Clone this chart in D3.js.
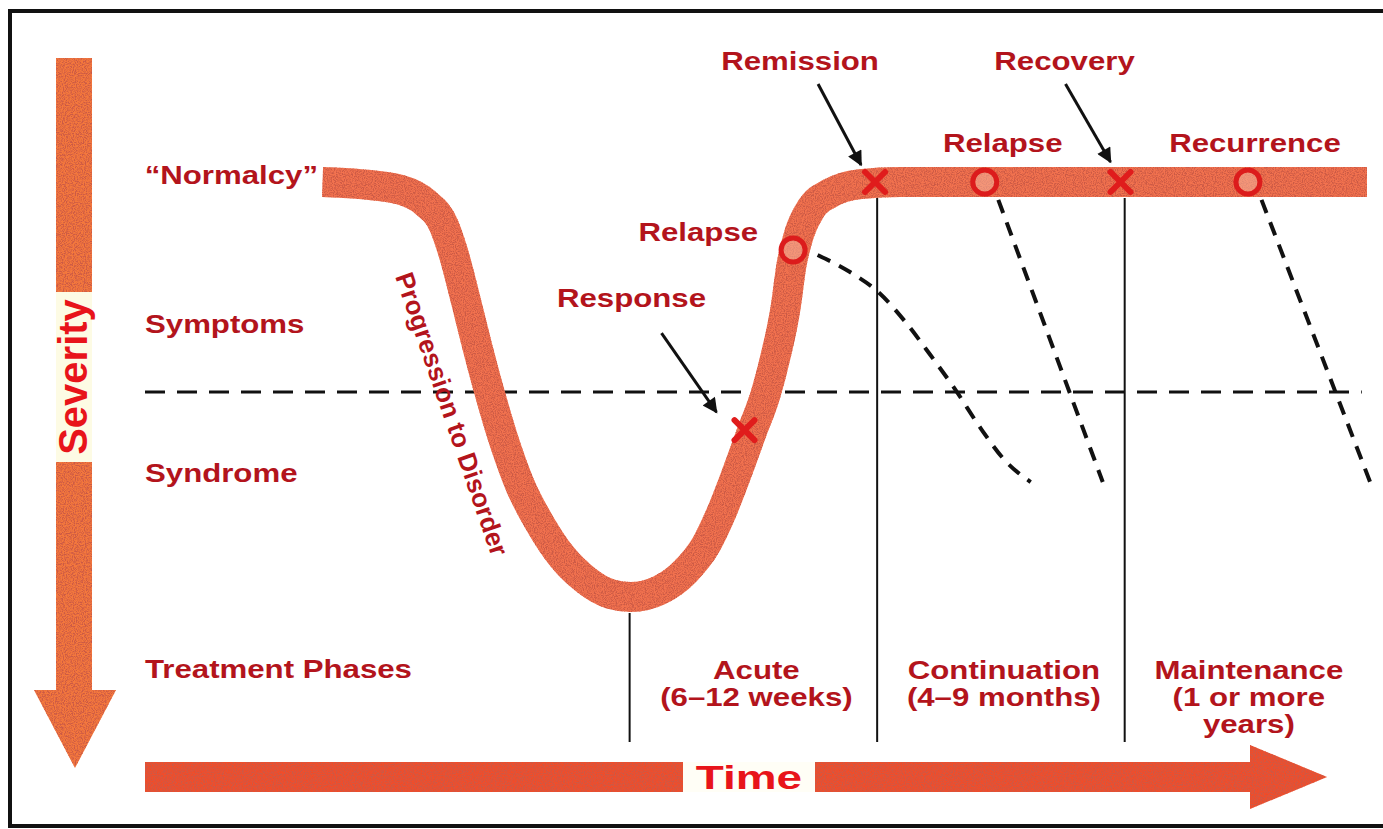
<!DOCTYPE html>
<html>
<head>
<meta charset="utf-8">
<script src="https://cdn.jsdelivr.net/npm/d3@7"></script>
<style>
  body { margin: 0; background: #fff; }
  svg { display: block; }
  text { font-family: "Liberation Sans", Arial, sans-serif; font-weight: bold; }
</style>
</head>
<body>
<svg id="chart"></svg>
<script>
// course of illness, time (0 = onset) vs severity (0 = normalcy, 100 = worst)
const curveTime = [0, 3.6, 7.5, 9.9, 11.6, 12.5, 13.7, 14.9, 16.0, 17.5, 18.9, 20.9, 22.8, 25.2, 27.6, 29.5,
                   32.3, 34.7, 36.7, 38.1, 39.7, 41.1, 42.4, 43.4, 44.3, 44.9, 45.7, 46.8, 48.6, 51.5, 55.3, 100];
const curveSeverity = [0, 0.5, 1.9, 5.1, 10.4, 16.9, 28.4, 40.5, 50.8, 63.4, 73.0, 82.7, 89.9, 95.9, 99.3, 100,
                       98.3, 93.9, 87.5, 80.2, 69.9, 60.2, 51.3, 41.7, 30.8, 20.0, 12.0, 6.3, 2.7, 0.5, 0, 0];

const thresholdSeverity = 50.6;
const levelNames = ["Symptoms", "Syndrome"];
const levelSeverity = [36.4, 72.3];

const phaseBounds = [29.4, 53.1, 76.8, 100];
const phaseTopSeverity = [100, 0, 0];
const phaseNames = [["Acute", "(6–12 weeks)"], ["Continuation", "(4–9 months)"], ["Maintenance", "(1 or more", "years)"]];

// events on the course
const crossTime = [40.4, 52.9, 76.4];
const crossSeverity = [59.8, 0, 0];
const crossNames = ["Response", "Remission", "Recovery"];
const circleTime = [45.05, 63.4, 88.6];
const circleSeverity = [16.4, 0, 0];
const circleNames = ["Relapse", "Relapse", "Recurrence"];

// dashed relapse paths
const relapseEarlyTime = [47.4, 50.5, 53.2, 55.8, 58.2, 60.6, 63.0, 65.3, 67.8];
const relapseEarlySeverity = [17.6, 21.7, 26.5, 33.7, 41.7, 50.1, 59.3, 67.0, 72.3];
const relapseLateStart = [[64.7, 4.3], [89.9, 4.3]];
const relapseLateEnd = [[74.7, 72.3], [100.3, 72.3]];

const width = 1383, height = 829;
const textRed = "#b3141c";
const sx = 1.2; // the original lettering is wide

const svg = d3.select("#chart").attr("width", width).attr("height", height);

const x = d3.scaleLinear().domain([-17, 100]).range([145, 1367]);
const y = d3.scaleLinear().domain([0, 100]).range([182, 597]);

const defs = svg.append("defs");
const grain = defs.append("filter").attr("id", "grain")
    .attr("filterUnits", "userSpaceOnUse")
    .attr("x", 0).attr("y", 0).attr("width", width).attr("height", height);
grain.append("feTurbulence").attr("type", "fractalNoise").attr("baseFrequency", 0.9)
    .attr("numOctaves", 2).attr("seed", 4).attr("result", "noise");
grain.append("feColorMatrix").attr("in", "noise").attr("type", "matrix")
    .attr("values", "0 0 0 0 0.6  0 0 0 0 0.1  0 0 0 0 0.06  0 0 0 3.4 -1.35")
    .attr("result", "spots");
grain.append("feComposite").attr("in", "spots").attr("in2", "SourceGraphic")
    .attr("operator", "in").attr("result", "clip");
const merge = grain.append("feMerge");
merge.append("feMergeNode").attr("in", "SourceGraphic");
merge.append("feMergeNode").attr("in", "clip");

defs.append("marker").attr("id", "head")
    .attr("viewBox", "0 0 10 10").attr("refX", 9).attr("refY", 5)
    .attr("markerWidth", 6).attr("markerHeight", 5).attr("orient", "auto")
    .attr("markerUnits", "strokeWidth")
    .append("path").attr("d", "M0,0L10,5L0,10Z").attr("fill", "#111");

// frame
svg.append("rect").attr("x", 10).attr("y", 11).attr("width", 1400).attr("height", 815)
    .attr("fill", "none").attr("stroke", "#111").attr("stroke-width", 4);

function label(g, txt, px, py, anchor, size) {
    return g.append("text")
        .attr("transform", `translate(${px},${py}) scale(${sx},1)`)
        .attr("text-anchor", anchor || "start")
        .attr("font-size", size || 26)
        .attr("fill", textRed)
        .text(txt);
}

// severity axis arrow
const sev = svg.append("g");
sev.append("path")
    .attr("d", "M56,58H92V690H116L75,768L34,690H56Z")
    .attr("fill", "#f4783e").attr("filter", "url(#grain)");
sev.append("rect").attr("x", 56).attr("y", 292).attr("width", 36).attr("height", 170).attr("fill", "#fdfbe4");
sev.append("text")
    .attr("transform", "translate(87,377) rotate(-90)")
    .attr("text-anchor", "middle").attr("font-size", 40)
    .attr("fill", "#e8141a").text("Severity");

// time axis arrow
const tim = svg.append("g");
tim.append("path")
    .attr("d", "M145,762H1250V745L1327,777L1250,809V792H145Z")
    .attr("fill", "#f04e2c").attr("filter", "url(#grain)");
tim.append("rect").attr("x", 683).attr("y", 762).attr("width", 132).attr("height", 30).attr("fill", "#fffef6");
tim.append("text")
    .attr("transform", "translate(749,789) scale(1.35,1)")
    .attr("text-anchor", "middle").attr("font-size", 34)
    .attr("fill", "#e8141a").text("Time");

// threshold line
svg.append("line")
    .attr("x1", x(-17)).attr("x2", x(99.5))
    .attr("y1", y(thresholdSeverity)).attr("y2", y(thresholdSeverity))
    .attr("stroke", "#111").attr("stroke-width", 3).attr("stroke-dasharray", "20,12");

// phase boundaries
svg.append("g").selectAll("line")
    .data(phaseBounds.slice(0, 3))
    .join("line")
    .attr("x1", d => x(d)).attr("x2", d => x(d))
    .attr("y1", (d, i) => y(phaseTopSeverity[i]) + 16).attr("y2", 742)
    .attr("stroke", "#111").attr("stroke-width", 2);

// dashed relapse paths
const dashed = svg.append("g").attr("fill", "none").attr("stroke", "#111")
    .attr("stroke-width", 4).attr("stroke-dasharray", "14,10");
dashed.append("path")
    .attr("d", d3.line().curve(d3.curveMonotoneX)
        .x((d, i) => x(d)).y((d, i) => y(relapseEarlySeverity[i]))(relapseEarlyTime));
dashed.selectAll("line")
    .data(relapseLateStart)
    .join("line")
    .attr("x1", d => x(d[0])).attr("y1", d => y(d[1]))
    .attr("x2", (d, i) => x(relapseLateEnd[i][0])).attr("y2", (d, i) => y(relapseLateEnd[i][1]));

// the course band
const course = d3.line().curve(d3.curveMonotoneX)
    .x(d => x(d)).y((d, i) => y(curveSeverity[i]));
svg.append("path")
    .attr("d", course(curveTime))
    .attr("fill", "none").attr("stroke", "#f27250").attr("stroke-width", 30)
    .attr("filter", "url(#grain)");

// level labels
const lv = svg.append("g");
label(lv, "\u201cNormalcy\u201d", 318, y(0) + 2, "end");
levelNames.forEach((n, i) => label(lv, n, 145, y(levelSeverity[i])));
label(lv, "Treatment Phases", 145, 678);

// phase labels
phaseNames.forEach((lines, i) => {
    const cx = (x(phaseBounds[i]) + x(phaseBounds[i + 1])) / 2 + 3;
    lines.forEach((ln, j) => label(lv, ln, cx, 679 + j * 27, "middle"));
});

// event markers
const ev = svg.append("g");
ev.selectAll("circle")
    .data(circleTime)
    .join("circle")
    .attr("cx", d => x(d)).attr("cy", (d, i) => y(circleSeverity[i]))
    .attr("r", 12)
    .attr("fill", "#f6b39a").attr("fill-opacity", 0.55)
    .attr("stroke", "#dc1c1c").attr("stroke-width", 5);

ev.selectAll("path.cross")
    .data(crossTime)
    .join("path")
    .attr("class", "cross")
    .attr("d", (d, i) => {
        const cx = x(d), cy = y(crossSeverity[i]);
        return `M${cx - 10},${cy - 10}L${cx + 10},${cy + 10}M${cx + 10},${cy - 10}L${cx - 10},${cy + 10}`;
    })
    .attr("stroke", "#e01c1c").attr("stroke-width", 6).attr("stroke-linecap", "round");

// annotation arrows: offsets from the marker they point at
const crossArrow = [[-83, -97, -28, -18], [-57, -98, -14, -17], [-55, -98, -10, -20]];
ev.selectAll("line.ann")
    .data(crossTime)
    .join("line")
    .attr("class", "ann")
    .attr("x1", (d, i) => x(d) + crossArrow[i][0]).attr("y1", (d, i) => y(crossSeverity[i]) + crossArrow[i][1])
    .attr("x2", (d, i) => x(d) + crossArrow[i][2]).attr("y2", (d, i) => y(crossSeverity[i]) + crossArrow[i][3])
    .attr("stroke", "#111").attr("stroke-width", 3).attr("marker-end", "url(#head)");

const crossLabel = [[-113, -123, "middle"], [-75, -112, "middle"], [-56, -112, "middle"]];
crossNames.forEach((n, i) => {
    const o = crossLabel[i];
    label(ev, n, x(crossTime[i]) + o[0], y(crossSeverity[i]) + o[1], o[2]);
});
const circleLabel = [[-35, -9, "end"], [18, -30, "middle"], [7, -30, "middle"]];
circleNames.forEach((n, i) => {
    const o = circleLabel[i];
    label(ev, n, x(circleTime[i]) + o[0], y(circleSeverity[i]) + o[1], o[2]);
});

// progression label along the falling limb
svg.append("text")
    .attr("transform", "translate(452,414) rotate(71)")
    .attr("text-anchor", "middle").attr("font-size", 26)
    .attr("fill", textRed).attr("dy", "0.35em")
    .text("Progression to Disorder");
</script>
</body>
</html>
